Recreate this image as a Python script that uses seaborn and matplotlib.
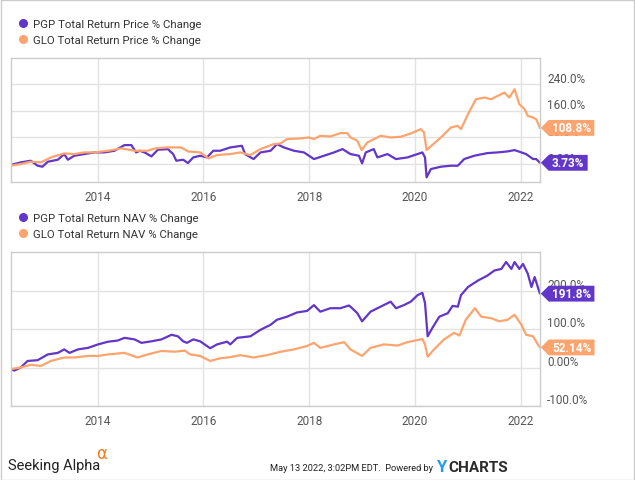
import numpy as np
import pandas as pd
import matplotlib
matplotlib.use("Agg")
import matplotlib.pyplot as plt
import seaborn as sns
from matplotlib.path import Path
from matplotlib.lines import Line2D
from matplotlib.patches import Rectangle
from matplotlib.transforms import ScaledTranslation

# ---------------- data (decimal years, % change) ----------------
pgp_price_t = [2012.36, 2012.55, 2012.74, 2012.87, 2012.96, 2013.06, 2013.25, 2013.37, 2013.44, 2013.56,
               2013.75, 2013.94, 2014.13, 2014.32, 2014.51, 2014.64, 2014.73, 2014.80, 2014.89, 2015.02,
               2015.14, 2015.33, 2015.43, 2015.49, 2015.62, 2015.71, 2015.81, 2015.94, 2016.07, 2016.19,
               2016.32, 2016.51, 2016.73, 2016.79, 2016.95, 2017.08, 2017.27, 2017.39, 2017.52, 2017.71,
               2017.90, 2018.09, 2018.28, 2018.47, 2018.63, 2018.78, 2018.94, 2019.00, 2019.07, 2019.22,
               2019.29, 2019.48, 2019.64, 2019.86, 2020.14, 2020.19, 2020.22, 2020.30, 2020.49, 2020.68,
               2020.81, 2020.87, 2020.93, 2021.12, 2021.37, 2021.56, 2021.75, 2021.88, 2022.01, 2022.10,
               2022.23, 2022.29, 2022.36]
pgp_price_v = [-3, 5, 10, -5, -8, 7, 13, 30, 13, 25,
               30, 35, 35, 40, 57, 57, 35, 40, 35, 23,
               43, 45, 30, 10, 13, 3, 20, 25, 20, 40,
               40, 50, 55, 30, 15, 35, 40, 60, 50, 40,
               35, 15, 25, 35, 45, 30, 25, 2, 35, 45,
               20, 30, 15, 20, 35, 20, -40, -15, -8, -5,
               -5, 5, 15, 25, 33, 35, 38, 42, 35, 30,
               15, 15, 3.73]

glo_price_t = [2012.36, 2012.55, 2012.74, 2012.93, 2013.12, 2013.37, 2013.56, 2013.75, 2013.94, 2014.20,
               2014.45, 2014.70, 2014.95, 2015.08, 2015.33, 2015.58, 2015.71, 2015.94, 2016.10, 2016.26,
               2016.51, 2016.70, 2016.89, 2017.08, 2017.33, 2017.46, 2017.58, 2017.84, 2017.99, 2018.09,
               2018.21, 2018.40, 2018.59, 2018.72, 2018.78, 2018.91, 2018.99, 2019.10, 2019.35, 2019.54,
               2019.73, 2019.92, 2020.11, 2020.17, 2020.22, 2020.31, 2020.49, 2020.68, 2020.81, 2020.87,
               2021.00, 2021.15, 2021.31, 2021.44, 2021.56, 2021.69, 2021.78, 2021.88, 2021.97, 2022.07,
               2022.13, 2022.23, 2022.29, 2022.36]
glo_price_v = [-5, 0, 7, 5, 20, 32, 30, 35, 35, 40,
               47, 40, 40, 47, 50, 50, 38, 35, 17, 27,
               30, 35, 27, 45, 60, 62, 75, 77, 80, 75,
               85, 83, 93, 93, 80, 70, 42, 65, 85, 80,
               82, 92, 105, 95, 42, 55, 80, 110, 115, 105,
               150, 195, 200, 195, 205, 215, 200, 225, 180, 165,
               145, 140, 135, 108.8]

pgp_nav_t = [2012.36, 2012.43, 2012.55, 2012.68, 2012.87, 2013.06, 2013.25, 2013.37, 2013.47, 2013.63,
             2013.82, 2014.01, 2014.20, 2014.38, 2014.51, 2014.70, 2014.83, 2015.02, 2015.21, 2015.40,
             2015.52, 2015.62, 2015.69, 2015.81, 2015.94, 2016.13, 2016.26, 2016.45, 2016.51, 2016.64,
             2016.89, 2017.08, 2017.27, 2017.39, 2017.58, 2017.77, 2017.96, 2018.09, 2018.21, 2018.40,
             2018.59, 2018.75, 2018.78, 2018.91, 2019.00, 2019.16, 2019.35, 2019.54, 2019.64, 2019.79,
             2019.92, 2020.05, 2020.14, 2020.19, 2020.24, 2020.33, 2020.46, 2020.62, 2020.71, 2020.81,
             2020.87, 2021.00, 2021.19, 2021.37, 2021.50, 2021.63, 2021.72, 2021.82, 2021.88, 2021.97,
             2022.04, 2022.13, 2022.20, 2022.26, 2022.32, 2022.36]
pgp_nav_v = [-4, -8, 0, 17, 19, 34, 38, 47, 38, 47,
             51, 60, 67, 70, 77, 73, 64, 68, 73, 85,
             81, 68, 64, 73, 68, 50, 60, 67, 60, 77,
             81, 98, 111, 124, 132, 143, 147, 162, 145, 154,
             154, 161, 158, 141, 120, 145, 158, 171, 154, 162,
             171, 188, 194, 167, 81, 103, 132, 141, 160, 158,
             188, 209, 226, 239, 252, 256, 274, 256, 274, 256,
             269, 244, 209, 235, 209, 191.8]

glo_nav_t = [2012.36, 2012.55, 2012.74, 2012.93, 2013.12, 2013.37, 2013.56, 2013.82, 2014.01, 2014.20,
             2014.51, 2014.76, 2014.95, 2015.21, 2015.46, 2015.65, 2015.75, 2015.94, 2016.13, 2016.32,
             2016.51, 2016.70, 2016.95, 2017.20, 2017.46, 2017.71, 2017.96, 2018.09, 2018.21, 2018.47,
             2018.66, 2018.78, 2019.00, 2019.16, 2019.41, 2019.67, 2019.86, 2020.14, 2020.19, 2020.24,
             2020.36, 2020.55, 2020.74, 2020.84, 2020.96, 2021.13, 2021.25, 2021.44, 2021.59, 2021.75,
             2021.88, 2022.01, 2022.10, 2022.23, 2022.32, 2022.36]
glo_nav_v = [-4, 0, 7, 4, 17, 26, 26, 30, 30, 34,
             38, 26, 34, 43, 41, 44, 34, 30, 17, 24,
             27, 32, 26, 32, 41, 47, 56, 64, 51, 60,
             66, 47, 30, 51, 60, 57, 66, 74, 60, 28,
             47, 73, 90, 83, 124, 154, 132, 128, 120, 124,
             137, 111, 85, 81, 60, 52.14]

top_labels = ["PGP Total Return Price % Change", "GLO Total Return Price % Change"]
bot_labels = ["PGP Total Return NAV % Change", "GLO Total Return NAV % Change"]
top_yticks = [0, 80, 160, 240]
top_ytick_labels = ["0.00%", "80.0%", "160.0%", "240.0%"]
bot_yticks = [-100, 0, 100, 200]
bot_ytick_labels = ["-100.0%", "0.00%", "100.0%", "200.0%"]
top_tags = ["3.73%", "108.8%"]
bot_tags = ["191.8%", "52.14%"]
xtick_years = [2014, 2016, 2018, 2020, 2022]


def to_dates(years):
    out = []
    for y in years:
        yi = int(np.floor(y))
        out.append(pd.Timestamp(yi, 1, 1) + pd.Timedelta(days=(y - yi) * 365.25))
    return out


sns.set_theme(style="white")
plt.rcParams["font.family"] = ["Roboto", "DejaVu Sans"]

PURPLE = "#6236c8"
ORANGE = "#fda46e"
GRID = "#e2e2e2"
SPINE = "#cccccc"
TICKC = "#555555"

W, H = 635, 481
fig = plt.figure(figsize=(W / 100, H / 100), dpi=100)
fig.patch.set_facecolor("white")
ax1 = fig.add_axes([11 / W, 1 - 183 / H, 529 / W, 124 / H])
ax2 = fig.add_axes([11 / W, 1 - 407 / H, 529 / W, 154 / H])

xmin = pd.Timestamp("2012-05-14")
xmax = pd.Timestamp("2022-05-13")


def tag_box(x0, y0, width, height, mutation_size):
    px = 0.28 * mutation_size
    py = 0.12 * mutation_size
    x0 -= px
    y0 -= py
    width += 2 * px
    height += 2 * py
    tip = height / 2
    verts = [(x0 - tip, y0 + height / 2), (x0, y0), (x0 + width, y0),
             (x0 + width, y0 + height), (x0, y0 + height), (x0 - tip, y0 + height / 2)]
    codes = [Path.MOVETO] + [Path.LINETO] * 4 + [Path.CLOSEPOLY]
    return Path(verts, codes)


def style_axis(ax, ylim, yticks, ylabels, series, tags):
    for (t, v), color in zip(series, [PURPLE, ORANGE]):
        sns.lineplot(x=to_dates(t), y=v, ax=ax, color=color, lw=1.6,
                     estimator=None, sort=False, legend=False)
    ax.set_xlim(xmin, xmax)
    ax.set_ylim(*ylim)
    ax.set_yticks(yticks)
    ax.set_yticklabels([])
    ax.tick_params(axis="y", length=0, right=False, left=False)
    ax.set_xticks([pd.Timestamp(y, 1, 1) for y in xtick_years])
    ax.set_xticklabels([str(y) for y in xtick_years], color=TICKC, fontsize=8.5)
    ax.tick_params(axis="x", length=0, pad=6)
    ax.grid(True, color=GRID, lw=1)
    ax.set_axisbelow(True)
    for s in ax.spines.values():
        s.set_color(SPINE)
        s.set_linewidth(1)
    ax.set_xlabel("")
    ax.set_ylabel("")
    off = ScaledTranslation(7 / 100, 6 / 100, fig.dpi_scale_trans)
    for v, lbl in zip(yticks, ylabels):
        ax.text(1.0, v, lbl, transform=ax.get_yaxis_transform() + off, ha="left", va="center",
                fontsize=8.5, color=TICKC, clip_on=False, zorder=1)
    for (t, v), color, txt in zip(series, [PURPLE, ORANGE], tags):
        ax.annotate(txt, xy=(1.0, v[-1]), xycoords=ax.get_yaxis_transform(),
                    xytext=(12, 0), textcoords="offset pixels", ha="left", va="center",
                    fontsize=8.5, fontweight="bold", color="white", zorder=10,
                    annotation_clip=False,
                    bbox=dict(boxstyle=tag_box, fc=color, ec="none"))


style_axis(ax1, (-54, 319), top_yticks, top_ytick_labels,
           [(pgp_price_t, pgp_price_v), (glo_price_t, glo_price_v)], top_tags)
style_axis(ax2, (-95, 300), bot_yticks, bot_ytick_labels,
           [(pgp_nav_t, pgp_nav_v), (glo_nav_t, glo_nav_v)], bot_tags)


def add_legend(labels, y_top):
    handles = [Line2D([], [], ls="none", marker="o", ms=5.5, mfc=c, mec=c) for c in [PURPLE, ORANGE]]
    leg = fig.legend(handles, labels, loc="upper left", bbox_to_anchor=(19 / W, 1 - y_top / H),
                     frameon=False, fontsize=8.2, handlelength=0.65, handletextpad=0.55,
                     labelspacing=0.5, borderpad=0, borderaxespad=0)
    for t in leg.get_texts():
        t.set_color("#333333")


add_legend(top_labels, 20)
add_legend(bot_labels, 214)

# footer
fig.text(8 / W, 1 - 470 / H, "Seeking Alpha", fontsize=10.5, color="#222222",
         family=["Roboto", "DejaVu Sans"], va="baseline")
fig.text(96 / W, 1 - 459 / H, "\u03b1", fontsize=12, color="#f47b20", va="baseline",
         family=["DejaVu Sans"])
fig.text(433 / W, 1 - 471 / H, "May 13 2022, 3:02PM EDT.  Powered by", fontsize=6.7,
         color="#222222", ha="right", va="baseline",
         family=["Roboto", "DejaVu Sans"])
fig.text(436 / W, 1 - 472 / H, "Y", fontsize=12, fontweight="bold", color="#1f9bf0",
         va="baseline")
fig.text(448 / W, 1 - 472 / H, "CHARTS", fontsize=11, fontweight="bold", color="#2b2b2b",
         va="baseline")

fig.patches.append(Rectangle((0.5 / W, 0.5 / H), 1 - 1.5 / W, 1 - 1.5 / H, transform=fig.transFigure,
                             fill=False, ec="#cccccc", lw=1))

fig.savefig("out.png", dpi=100, facecolor="white")
